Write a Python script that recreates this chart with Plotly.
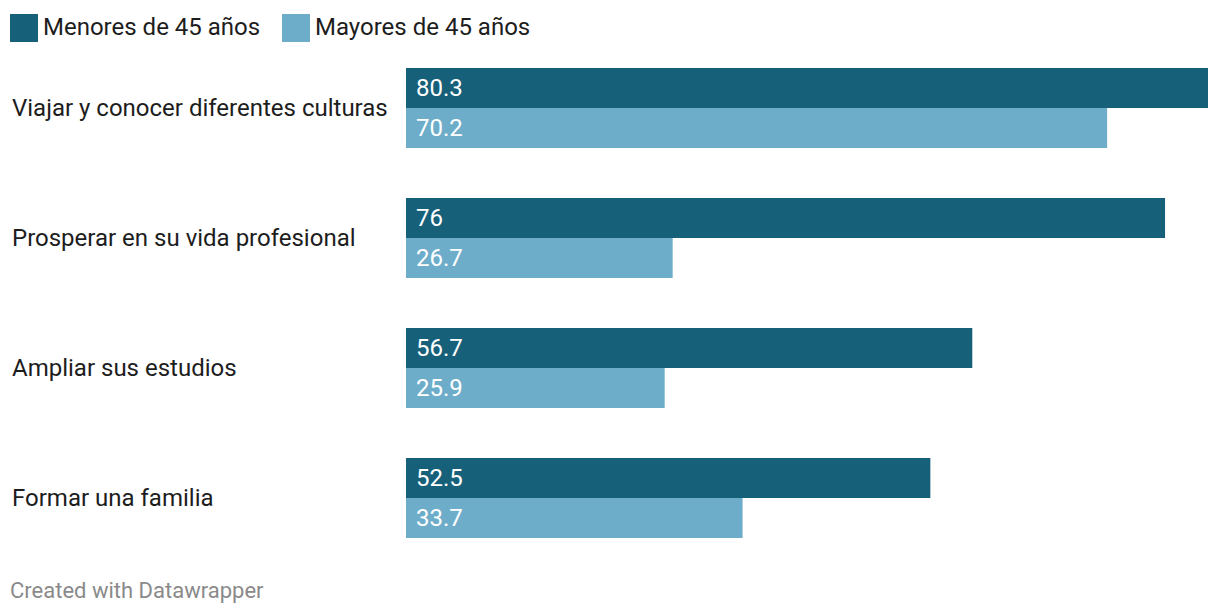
import plotly.graph_objects as go

categories = ["Viajar y conocer diferentes culturas", "Prosperar en su vida profesional",
              "Ampliar sus estudios", "Formar una familia"]
menores = [80.3, 76, 56.7, 52.5]
mayores = [70.2, 26.7, 25.9, 33.7]
series_names = ["Menores de 45 años", "Mayores de 45 años"]
colors = ["#17607a", "#6eadca"]

W, H = 1220, 616
L, R, T, B = 406, 12, 43, 53
PW, PH = W - L - R, H - T - B

def px(x):
    return (x - L) / PW

def py(y):
    return (H - B - y) / PH

FONT = "Roboto"
fig = go.Figure()
for name, vals, col in zip(series_names, [menores, mayores], colors):
    fig.add_trace(go.Bar(y=categories, x=vals, name=name, orientation="h",
                         marker=dict(color=col, line=dict(width=0)),
                         hoverinfo="skip", showlegend=False))

ann = []
for i, c in enumerate(categories):
    ann.append(dict(x=0, y=c, xref="paper", yref="y", xshift=-(L - 10), xanchor="left",
                    yanchor="middle", text=c, showarrow=False,
                    font=dict(family=FONT, size=24, color="#1d1d1d")))
    for vals, ys in [(menores, 20), (mayores, -20)]:
        v = vals[i]
        ann.append(dict(x=0, y=c, xref="x", yref="y", xshift=8, yshift=ys, xanchor="left",
                        yanchor="middle", text=f"{v:g}", showarrow=False,
                        font=dict(family=FONT, size=24, color="#ffffff")))

# legend
shapes = []
leg_x = [10, 282]
for name, col, lx in zip(series_names, colors, leg_x):
    shapes.append(dict(type="rect", xref="paper", yref="paper", x0=px(lx), x1=px(lx + 28),
                       y0=py(42), y1=py(14), fillcolor=col, line=dict(width=0)))
    ann.append(dict(x=px(lx + 31), y=py(27), xref="paper", yref="paper", xanchor="left",
                    yanchor="middle", text=name, showarrow=False,
                    font=dict(family=FONT, size=24, color="#1d1d1d")))

ann.append(dict(x=px(8), y=py(590), xref="paper", yref="paper", xanchor="left",
                yanchor="middle", text="Created with Datawrapper", showarrow=False,
                font=dict(family=FONT, size=22, color="#8a8a8a")))

fig.update_layout(
    width=W, height=H, margin=dict(l=L, r=R, t=T, b=B),
    paper_bgcolor="white", plot_bgcolor="white",
    barmode="group", bargap=50 / 130, bargroupgap=0,
    xaxis=dict(range=[0, 80.3], visible=False, fixedrange=True),
    yaxis=dict(autorange="reversed", visible=False, fixedrange=True),
    annotations=ann, shapes=shapes,
)
fig.write_html("out.html", config={"displayModeBar": False},
               post_script="document.body.style.margin='0';")
